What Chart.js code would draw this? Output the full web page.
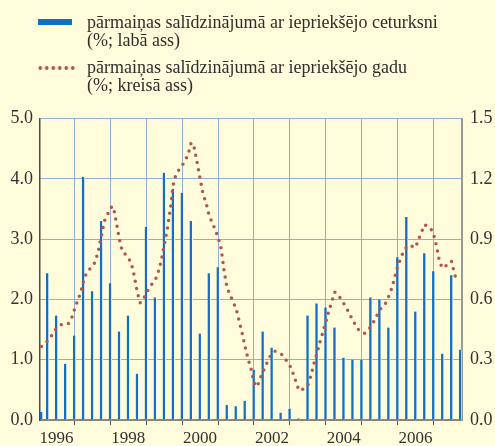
<!DOCTYPE html>
<html>
<head>
<meta charset="utf-8">
<script src="https://cdn.jsdelivr.net/npm/chart.js@4.4.1/dist/chart.umd.min.js"></script>
<style>
  html, body { margin: 0; padding: 0; background: #fffcdc; }
  #wrap { position: relative; width: 495px; height: 446px; overflow: hidden; }
  #chart { position: absolute; left: 0; top: 0; }
  .leg { position: absolute; left: 87px; font-family: "Liberation Serif", "DejaVu Serif", serif; font-size: 18px; line-height: 18.5px; color: #2e2e2e; white-space: nowrap; }
  .box { position: absolute; left: 38px; width: 34px; height: 6px; background: #1170c2; }
  .dots { position: absolute; left: 37px; width: 39px; height: 6px;
    background-image: radial-gradient(circle, #b0544c 1.6px, transparent 2.1px);
    background-size: 6.5px 6px; }
</style>
</head>
<body>
<div id="wrap">
  <canvas id="chart" width="495" height="446"></canvas>
  <div class="box" style="top:19px"></div>
  <div class="leg" style="top:12.5px">pārmaiņas salīdzinājumā ar iepriekšējo ceturksni<br>(%; labā ass)</div>
  <div class="dots" style="top:65px"></div>
  <div class="leg" style="top:57.5px">pārmaiņas salīdzinājumā ar iepriekšējo gadu<br>(%; kreisā ass)</div>
</div>
<script>
// monthly categories Jan 1996 .. Sep 2007
const months = [];
for (let y = 1996; y <= 2007; y++) {
  for (let m = 1; m <= 12; m++) {
    if (months.length < 141) months.push(y + "-" + String(m).padStart(2, "0"));
  }
}
const yearLabels = ["1996", "1998", "2000", "2002", "2004", "2006"];

// year on year change, left axis, monthly
const yoyValues = [
  1.22, 1.27, 1.31, 1.37, 1.45, 1.52, 1.56, 1.59, 1.59, 1.60, 1.68, 1.83,
  1.97, 2.10, 2.29, 2.44, 2.50, 2.54, 2.63, 2.81, 3.05, 3.30, 3.40, 3.52,
  3.54, 3.28, 3.00, 2.79, 2.75, 2.69, 2.60, 2.39, 2.12, 1.94, 2.00, 2.10,
  2.19, 2.26, 2.32, 2.45, 2.64, 2.90, 3.16, 3.48, 3.90, 4.09, 4.15, 4.22,
  4.30, 4.41, 4.60, 4.52, 4.27, 4.00, 3.74, 3.60, 3.39, 3.28, 3.16, 3.03,
  2.85, 2.48, 2.19, 2.08, 1.96, 1.85, 1.65, 1.45, 1.22, 1.02, 0.85, 0.62,
  0.55, 0.68, 0.80, 0.91, 1.02, 1.10, 1.14, 1.12, 1.10, 1.05, 0.97, 0.90,
  0.78, 0.64, 0.49, 0.50, 0.53, 0.58, 0.73, 0.93, 1.10, 1.29, 1.45, 1.62,
  1.81, 1.96, 2.12, 2.08, 2.01, 1.93, 1.85, 1.75, 1.65, 1.57, 1.49, 1.45,
  1.44, 1.48, 1.55, 1.63, 1.73, 1.82, 1.89, 1.94, 2.05, 2.18, 2.36, 2.55,
  2.68, 2.80, 2.87, 2.90, 2.88, 2.86, 3.00, 3.12, 3.24, 3.21, 3.18, 3.08,
  2.88, 2.62, 2.52, 2.55, 2.61, 2.63, 2.42, 2.28
];

// quarter on quarter change, right axis (first value sits at Jan 1996, then quarter ends)
const qoqValues = [
  0.04,
  0.73, 0.52, 0.28, 0.42,
  1.21, 0.64, 0.99, 0.68,
  0.44, 0.52, 0.23, 0.96,
  0.61, 1.23, 1.15, 1.13,
  0.99, 0.43, 0.73, 0.76,
  0.075, 0.068, 0.096, 0.25,
  0.44, 0.36, 0.036, 0.056,
  0.008, 0.52, 0.58, 0.56,
  0.46, 0.31, 0.30, 0.30,
  0.61, 0.60, 0.46, 0.81,
  1.01, 0.54, 0.83, 0.74,
  0.33, 0.72, 0.35
];
const qoqIdx = [0];
for (let i = 2; i < months.length; i += 3) qoqIdx.push(i);

const leftTicks = [0, 1, 2, 3, 4, 5];
const rightTicks = [0, 0.3, 0.6, 0.9, 1.2, 1.5];

const gridBlue = "#8eaee2";
const tickFont = { family: "Liberation Serif", size: 17 };
const yFont = { family: "Liberation Serif", size: 18 };

new Chart(document.getElementById("chart"), {
  type: "bar",
  data: {
    labels: months,
    datasets: [
      {
        type: "line",
        data: yoyValues,
        yAxisID: "y",
        borderColor: "#b3564c",
        borderWidth: 3.5,
        borderDash: [0, 7.4],
        borderCapStyle: "round",
        pointRadius: 0,
        tension: 0,
        fill: false,
        order: 0,
      },
      {
        type: "bar",
        data: qoqValues.map((v, k) => ({ x: months[qoqIdx[k]], y: v })),
        yAxisID: "y1",
        backgroundColor: "#1170c2",
        borderColor: "#ffffff",
        borderWidth: { left: 0, right: 1, top: 0, bottom: 0 },
        borderSkipped: false,
        barThickness: 3,
        order: 1,
      },
    ],
  },
  options: {
    responsive: false,
    animation: false,
    devicePixelRatio: 1,
    layout: { padding: { top: 118.5, left: 0, right: 0, bottom: 0 } },
    plugins: { legend: { display: false }, tooltip: { enabled: false } },
    scales: {
      x: {
        offset: true,
        grid: {
          offset: false,
          color: (c) => (c.index % 12 === 11 ? gridBlue : "transparent"),
          tickColor: (c) => (c.index % 12 === 11 ? "#555" : "transparent"),
          tickLength: 5,
          lineWidth: 1,
        },
        border: { display: true, color: "#8c8474", width: 2 },
        ticks: {
          autoSkip: false,
          maxRotation: 0,
          minRotation: 0,
          padding: 3,
          color: "#333",
          font: tickFont,
          callback: (v, i) => (i % 24 === 5 ? yearLabels[(i - 5) / 24] : ""),
        },
        afterFit: (s) => { s.height = 26; },
      },
      y: {
        position: "left",
        min: 0,
        max: 5,
        afterBuildTicks: (s) => { s.ticks = leftTicks.map((v) => ({ value: v })); },
        grid: { color: gridBlue, drawTicks: false, lineWidth: 1 },
        border: { display: true, color: "#4a4a4a", width: 1.5 },
        ticks: { padding: 7, color: "#333", font: yFont, callback: (v) => v.toFixed(1) },
        afterFit: (s) => { s.width = 40; },
      },
      y1: {
        position: "right",
        min: 0,
        max: 1.5,
        afterBuildTicks: (s) => { s.ticks = rightTicks.map((v) => ({ value: v })); },
        grid: { drawOnChartArea: false, drawTicks: false },
        border: { display: true, color: "#9a9a9a", width: 2 },
        ticks: { padding: 8, color: "#333", font: yFont, callback: (v) => v.toFixed(1) },
        afterFit: (s) => { s.width = 33; },
      },
    },
  },
});
</script>
</body>
</html>
